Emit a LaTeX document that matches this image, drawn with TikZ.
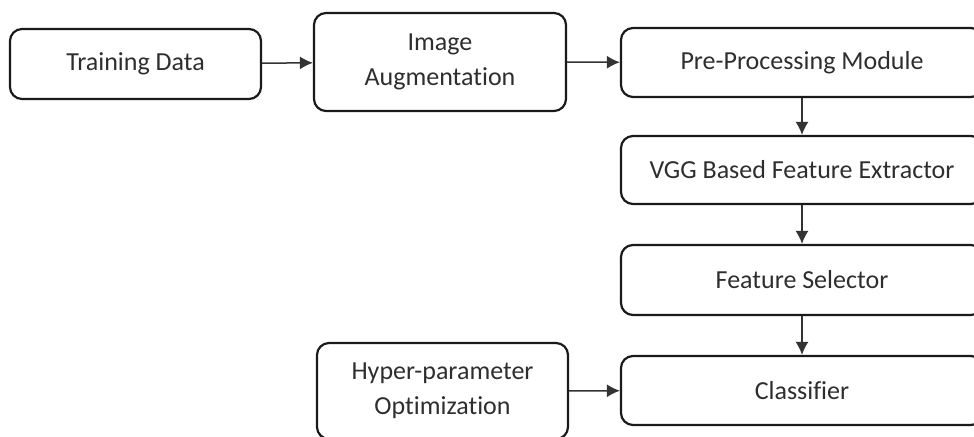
\documentclass[tikz,border=0pt]{standalone}
\usepackage{fontspec}
\setmainfont[Ligatures={NoCommon}]{Carlito}
\usetikzlibrary{arrows.meta}
\definecolor{boxline}{HTML}{1A1A1A}
\definecolor{txt}{HTML}{2E2E2E}
\definecolor{arr}{HTML}{333333}
\tikzset{
  blk/.style={draw=boxline,line width=1.1pt,rounded corners=6pt,text=txt,align=center,
    font=\fontsize{13}{17.5}\selectfont,inner sep=0pt},
  flow/.style={draw=arr,line width=.75pt,-{Latex[length=6.5pt,width=6.5pt]}}
}
\begin{document}
\begin{tikzpicture}[x=.5pt,y=-.5pt]
\useasboundingbox (0,0) rectangle (974,437);
\node[blk,minimum width=125.5pt,minimum height=35pt] (train) at (135.5,64) {Training Data};
\node[blk,minimum width=126pt,minimum height=49pt] (aug) at (440,62) {Image\\Augmentation};
\node[blk,minimum width=181pt,minimum height=34.5pt] (pre) at (802,62.5) {Pre-Processing Module};
\node[blk,minimum width=181pt,minimum height=34pt] (vgg) at (802,170) {VGG Based Feature Extractor};
\node[blk,minimum width=181pt,minimum height=35pt] (sel) at (802,280) {Feature Selector};
\node[blk,minimum width=181pt,minimum height=34.5pt] (cls) at (802,390.5) {Classifier};
\node[blk,minimum width=125.5pt,minimum height=48pt] (hyp) at (442.5,391) {Hyper-parameter\\Optimization};
\draw[flow] (train) -- (aug);
\draw[flow] (aug) -- (pre);
\draw[flow] (pre) -- (vgg);
\draw[flow] (vgg) -- (sel);
\draw[flow] (sel) -- (cls);
\draw[flow] (hyp) -- (cls);
\end{tikzpicture}
\end{document}
